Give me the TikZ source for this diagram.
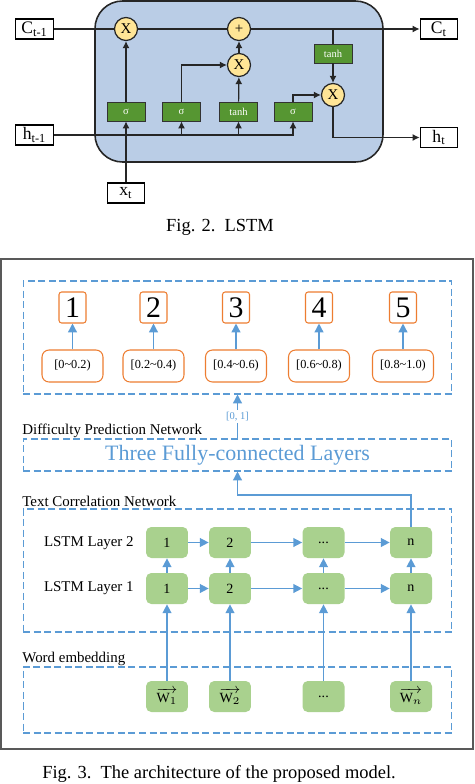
\documentclass[tikz,border=0pt]{standalone}
\usepackage{amsmath,amssymb}
\usepackage{fontspec}
\setmainfont{Liberation Serif}
\usepackage{xcolor}
\usepackage{tikz}
\usetikzlibrary{arrows.meta}

\definecolor{cellblue}{RGB}{186,205,230}
\definecolor{gategreen}{RGB}{86,150,50}
\definecolor{opyellow}{RGB}{255,229,150}
\definecolor{lineblue}{RGB}{91,155,213}
\definecolor{boxorange}{RGB}{237,125,49}
\definecolor{lstmgreen}{RGB}{169,209,142}

\tikzset{
	io/.style={draw, line width=0.7pt, fill=white, minimum width=0.75cm, minimum height=0.4cm, inner sep=0pt, font=\fontsize{10}{12}\selectfont},
	gate/.style={draw=black!80, fill=gategreen, text=white, minimum width=0.76cm, minimum height=0.38cm, inner sep=0pt, font=\fontsize{6}{7}\selectfont},
	op/.style={circle, draw=black!85, line width=0.7pt, fill=opyellow, minimum size=0.46cm, inner sep=0pt, font=\fontsize{8.5}{9}\selectfont},
	blk/.style={line width=0.7pt, draw=black!85, -{Latex[length=4pt,width=4pt]}},
	dashbox/.style={draw=lineblue, line width=0.6pt, dash pattern=on 4pt off 2pt, minimum width=8.58cm, inner sep=0pt},
	numbox/.style={draw=boxorange, line width=0.6pt, rounded corners=1.5pt, fill=white, minimum width=0.54cm, minimum height=0.62cm, inner sep=0pt, font=\fontsize{17}{18}\selectfont},
	rangebox/.style={draw=boxorange, line width=0.6pt, rounded corners=4pt, fill=white, minimum width=1.22cm, minimum height=0.64cm, inner sep=0pt, font=\fontsize{7}{8}\selectfont},
	lstm/.style={fill=lstmgreen, rounded corners=3pt, minimum width=0.84cm, minimum height=0.62cm, inner sep=0pt, font=\fontsize{8}{9}\selectfont},
	blu/.style={line width=0.8pt, draw=lineblue, -{Triangle[length=5pt,width=5pt]}},
	netlabel/.style={anchor=base west, inner sep=0pt, font=\fontsize{8.5}{10}\selectfont},
	figcap/.style={font=\fontsize{10.5}{12}\selectfont}
}

\begin{document}
\begin{tikzpicture}[x=0.02cm, y=-0.02cm]
	\useasboundingbox (0,0) rectangle (474,784);

	% Fig. 2: LSTM cell
	\draw[fill=cellblue, draw=black!85, line width=0.9pt, rounded corners=0.55cm] (95,1) rectangle (383,162);

	\node[io] (ctin) at (34.5,29) {C\textsubscript{t-1}};
	\node[io] (htin) at (34.5,135) {h\textsubscript{t-1}};
	\node[io] (xt) at (126,193) {x\textsubscript{t}};
	\node[io] (ctout) at (439,29) {C\textsubscript{t}};
	\node[io] (htout) at (439,137.5) {h\textsubscript{t}};

	\node[op] (mulf) at (126,29) {X};
	\node[op] (addc) at (239,29) {+};
	\node[op] (muli) at (239,65) {X};
	\node[op] (mulo) at (333,95) {X};

	\node[gate] (gf) at (126,111.5) {σ};
	\node[gate] (gi) at (181.5,111.5) {σ};
	\node[gate] (gc) at (238.5,111.5) {tanh};
	\node[gate] (go) at (293,111.5) {σ};
	\node[gate] (tc) at (333,53.5) {tanh};

	\draw[line width=0.7pt, draw=black!85] (ctin) -- (mulf) -- (addc);
	\draw[blk] (addc) -- (ctout);
	\draw[line width=0.7pt, draw=black!85] (tc.north |- ctout) -- (tc.north);
	\draw[blk] (xt) -- (gf);
	\draw[blk] (gf) -- (mulf);
	\draw[blk] (htin.east) -| (go.south);
	\draw[blk] (gi.south |- htin.east) -- (gi.south);
	\draw[blk] (gc.south |- htin.east) -- (gc.south);
	\draw[blk] (gi.north) |- (muli.west);
	\draw[blk] (gc) -- (muli);
	\draw[blk] (muli) -- (addc);
	\draw[blk] (go.north) |- (mulo.west);
	\draw[blk] (tc) -- (mulo);
	\draw[blk] (mulo.south) |- (htout.west);

	\node[figcap] (fig2) at (220,227) {Fig. 2.\ \ LSTM};

	% Fig. 3: proposed model
	\draw[black!65, line width=0.9pt] (1,259) rectangle (473,749);

	\node[dashbox, minimum height=2.26cm] (outbox) at (237.5,337.5) {};
	\node[numbox] (n1) at (72.5,307.5) {1};
	\node[numbox] (n2) at (153.5,307.5) {2};
	\node[numbox] (n3) at (236,307.5) {3};
	\node[numbox] (n4) at (319,307.5) {4};
	\node[numbox] (n5) at (403,307.5) {5};
	\node[rangebox] (r1) at (72.5,366) {[0\textasciitilde0.2)};
	\node[rangebox] (r2) at (153.5,366) {[0.2\textasciitilde0.4)};
	\node[rangebox] (r3) at (236,366) {[0.4\textasciitilde0.6)};
	\node[rangebox] (r4) at (319,366) {[0.6\textasciitilde0.8)};
	\node[rangebox] (r5) at (403,366) {[0.8\textasciitilde1.0)};
	\draw[blu] (r1) -- (n1);
	\draw[blu] (r2) -- (n2);
	\draw[blu] (r3) -- (n3);
	\draw[blu] (r4) -- (n4);
	\draw[blu] (r5) -- (n5);

	\node[netlabel] (dpn) at (22,434) {Difficulty Prediction Network};
	\node[dashbox, minimum height=0.64cm, text=lineblue, font=\fontsize{12.5}{14}\selectfont] (fcbox) at (237.5,455) {Three Fully-connected Layers};
	\draw[blu] (fcbox.north) -- node[fill=white, inner sep=1pt, text=lineblue, font=\fontsize{6}{7}\selectfont] {[0, 1]} (outbox.south);

	\node[netlabel] (tcn) at (22,506) {Text Correlation Network};
	\node[dashbox, minimum height=2.46cm] (tcnbox) at (237.5,570.5) {};
	\node[anchor=east, inner sep=0pt, font=\fontsize{8.5}{10}\selectfont] (lay2) at (134,543) {LSTM Layer 2};
	\node[anchor=east, inner sep=0pt, font=\fontsize{8.5}{10}\selectfont] (lay1) at (134,588) {LSTM Layer 1};

	\node[lstm] (a1) at (167,542.5) {1};
	\node[lstm] (a2) at (230,542.5) {2};
	\node[lstm] (a3) at (323.5,542.5) {...};
	\node[lstm] (a4) at (411,542.5) {n};
	\node[lstm] (b1) at (167,588.5) {1};
	\node[lstm] (b2) at (230,588.5) {2};
	\node[lstm] (b3) at (323.5,588.5) {...};
	\node[lstm] (b4) at (411,588.5) {n};
	\draw[blu] (a1) -- (a2);
	\draw[blu] (a2) -- (a3);
	\draw[blu] (a3) -- (a4);
	\draw[blu] (b1) -- (b2);
	\draw[blu] (b2) -- (b3);
	\draw[blu] (b3) -- (b4);
	\draw[blu] (b1) -- (a1);
	\draw[blu] (b2) -- (a2);
	\draw[blu] (b3) -- (a3);
	\draw[blu] (b4) -- (a4);
	\coordinate (bend) at (237.5,495);
	\draw[blu] (a4.north) |- (bend) -- (fcbox.south);

	\node[netlabel] (wel) at (22,662) {Word embedding};
	\node[dashbox, minimum height=1.32cm] (webox) at (237.5,700) {};
	\node[lstm] (w1) at (167,696.5) {$\overrightarrow{\mathrm{W}_1}$};
	\node[lstm] (w2) at (230,696.5) {$\overrightarrow{\mathrm{W}_2}$};
	\node[lstm] (w3) at (323.5,696.5) {...};
	\node[lstm] (w4) at (411,696.5) {$\overrightarrow{\mathrm{W}_n}$};
	\draw[blu] (w1) -- (b1);
	\draw[blu] (w2) -- (b2);
	\draw[blu] (w3) -- (b3);
	\draw[blu] (w4) -- (b4);

	\node[figcap] (fig3) at (219,774) {Fig. 3.\ \ The architecture of the proposed model.};
\end{tikzpicture}
\end{document}
